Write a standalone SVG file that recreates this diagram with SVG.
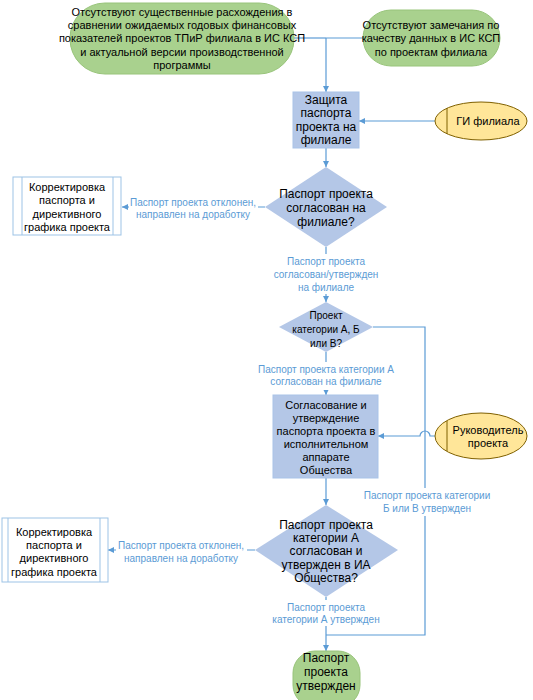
<svg xmlns="http://www.w3.org/2000/svg" width="533" height="700" viewBox="0 0 533 700">
<style>
text{font-family:"Liberation Sans",Arial,sans-serif;text-anchor:middle;}
.n{font-size:11px;fill:#000;}
.lb{font-size:10px;fill:#5B9BD5;}
.term{fill:#A9D18E;stroke:#98c47a;stroke-width:1;}
.proc{fill:#B4C7E7;stroke:#a9c3e8;stroke-width:1;}
.dec{fill:#B4C7E7;stroke:none;}
.ext{fill:#FFE699;stroke:#7f6000;stroke-width:1;}
.sub{fill:#fff;stroke:#9DC3E6;stroke-width:1;}
.c{fill:none;stroke:#5B9BD5;stroke-width:1.2;}
.bg{fill:#fff;}
</style>
<defs>
<marker id="ah" viewBox="0 0 10 10" refX="10" refY="5" markerWidth="6" markerHeight="6" markerUnits="userSpaceOnUse" orient="auto">
<path d="M0,0 L10,5 L0,10 z" fill="#5B9BD5"/>
</marker>
</defs>
<rect width="533" height="700" fill="#fff"/>
<g id="connectors">
<path class="c" d="M294,38 H326"/>
<path class="c" d="M363,38 H326"/>
<path class="c" d="M326,38 V92" marker-end="url(#ah)"/>
<path class="c" d="M435,121 H359" marker-end="url(#ah)"/>
<path class="c" d="M326,148 V167" marker-end="url(#ah)"/>
<path class="c" d="M265,207 H122" marker-end="url(#ah)"/>
<path class="c" d="M326,247 V302" marker-end="url(#ah)"/>
<path class="c" d="M373,327 H425 V635 H326"/>
<path class="c" d="M326,352 V395" marker-end="url(#ah)"/>
<path class="c" d="M435,436 H430 A5,5 0 0 0 420,436 H378" marker-end="url(#ah)"/>
<path class="c" d="M326,478 V505" marker-end="url(#ah)"/>
<path class="c" d="M255,550 H108" marker-end="url(#ah)"/>
<path class="c" d="M326,597 V651" marker-end="url(#ah)"/>
</g>
<g id="labels">
<rect class="bg" x="129" y="195" width="129" height="26"/>
<text class="lb" x="193" y="206">Паспорт проекта отклонен,</text>
<text class="lb" x="193" y="218">направлен на доработку</text>
<rect class="bg" x="270" y="254" width="112" height="40"/>
<text class="lb" x="326" y="265">Паспорт проекта</text>
<text class="lb" x="326" y="278">согласован/утвержден</text>
<text class="lb" x="326" y="291">на филиале</text>
<rect class="bg" x="256" y="362" width="140" height="28"/>
<text class="lb" x="326" y="373">Паспорт проекта категории А</text>
<text class="lb" x="326" y="385">согласован на филиале</text>
<rect class="bg" x="362" y="488" width="132" height="28"/>
<text class="lb" x="427" y="499">Паспорт проекта категории</text>
<text class="lb" x="427" y="512">Б или В утвержден</text>
<rect class="bg" x="116" y="538" width="131" height="27"/>
<text class="lb" x="181" y="549">Паспорт проекта отклонен,</text>
<text class="lb" x="181" y="562">направлен на доработку</text>
<rect class="bg" x="270" y="600" width="112" height="26"/>
<text class="lb" x="326" y="611">Паспорт проекта</text>
<text class="lb" x="326" y="623">категории А утвержден</text>
</g>
<g id="start1">
<rect class="term" x="70" y="3" width="224" height="71" rx="35" ry="35"/>
<text class="n" x="182" y="16">Отсутствуют существенные расхождения в</text>
<text class="n" x="182" y="29">сравнении ожидаемых годовых финансовых</text>
<text class="n" x="182" y="42">показателей проектов ТПиР филиала в ИС КСП</text>
<text class="n" x="182" y="56">и актуальной версии производственной</text>
<text class="n" x="182" y="69">программы</text>
</g>
<g id="start2">
<rect class="term" x="363" y="10" width="137" height="56" rx="28" ry="28"/>
<text class="n" x="431" y="29">Отсутствуют замечания по</text>
<text class="n" x="431" y="42">качеству данных в ИС КСП</text>
<text class="n" x="431" y="56">по проектам филиала</text>
</g>
<g id="protect">
<rect class="proc" x="293" y="92" width="66" height="56"/>
<text class="n" x="326" y="104" style="font-size:12px">Защита</text>
<text class="n" x="326" y="117" style="font-size:12px">паспорта</text>
<text class="n" x="326" y="131" style="font-size:12px">проекта на</text>
<text class="n" x="326" y="144" style="font-size:12px">филиале</text>
</g>
<g id="gi">
<ellipse class="ext" cx="481" cy="121" rx="46" ry="19"/>
<path d="M447,108 V134" stroke="#7f6000" stroke-width="1"/>
<text class="n" x="488" y="125">ГИ филиала</text>
</g>
<g id="dec1">
<polygon class="dec" points="326,167 387,207 326,247 265,207"/>
<text class="n" x="326" y="198" style="font-size:12px">Паспорт проекта</text>
<text class="n" x="326" y="212" style="font-size:12px">согласован на</text>
<text class="n" x="326" y="226" style="font-size:12px">филиале?</text>
</g>
<g id="fix1">
<rect class="sub" x="13" y="177" width="108" height="58"/>
<path d="M22,177 V235 M113,177 V235" stroke="#9DC3E6" stroke-width="1"/>
<text class="n" x="67" y="191">Корректировка</text>
<text class="n" x="67" y="204">паспорта и</text>
<text class="n" x="67" y="218">директивного</text>
<text class="n" x="67" y="231">графика проекта</text>
</g>
<g id="dec2">
<polygon class="dec" points="326,302 373,327 326,352 279,327"/>
<text class="n" x="326" y="319" style="font-size:10px">Проект</text>
<text class="n" x="326" y="333" style="font-size:10px">категории А, Б</text>
<text class="n" x="326" y="347" style="font-size:10px">или В?</text>
</g>
<g id="approve">
<rect class="proc" x="273" y="395" width="105" height="83"/>
<text class="n" x="326" y="409">Согласование и</text>
<text class="n" x="326" y="422">утверждение</text>
<text class="n" x="326" y="435">паспорта проекта в</text>
<text class="n" x="326" y="448">исполнительном</text>
<text class="n" x="326" y="461">аппарате</text>
<text class="n" x="326" y="474">Общества</text>
</g>
<g id="head">
<ellipse class="ext" cx="481" cy="436" rx="46" ry="23"/>
<path d="M447,421 V451" stroke="#7f6000" stroke-width="1"/>
<text class="n" x="488" y="434">Руководитель</text>
<text class="n" x="488" y="447">проекта</text>
</g>
<g id="dec3">
<polygon class="dec" points="326,505 398,550 326,597 255,550"/>
<text class="n" x="326" y="529" style="font-size:12px">Паспорт проекта</text>
<text class="n" x="326" y="542" style="font-size:12px">категории А</text>
<text class="n" x="326" y="555" style="font-size:12px">согласован и</text>
<text class="n" x="326" y="569" style="font-size:12px">утвержден в ИА</text>
<text class="n" x="326" y="582" style="font-size:12px">Общества?</text>
</g>
<g id="fix2">
<rect class="sub" x="2" y="518" width="106" height="64"/>
<path d="M8,518 V582 M100,518 V582" stroke="#9DC3E6" stroke-width="1"/>
<text class="n" x="54" y="536">Корректировка</text>
<text class="n" x="54" y="549">паспорта и</text>
<text class="n" x="54" y="562">директивного</text>
<text class="n" x="54" y="576">графика проекта</text>
</g>
<g id="end">
<rect class="term" x="293" y="651" width="67" height="56" rx="22" ry="22"/>
<text class="n" x="326" y="662" style="font-size:12px">Паспорт</text>
<text class="n" x="326" y="676" style="font-size:12px">проекта</text>
<text class="n" x="326" y="690" style="font-size:12px">утвержден</text>
</g>
</svg>
